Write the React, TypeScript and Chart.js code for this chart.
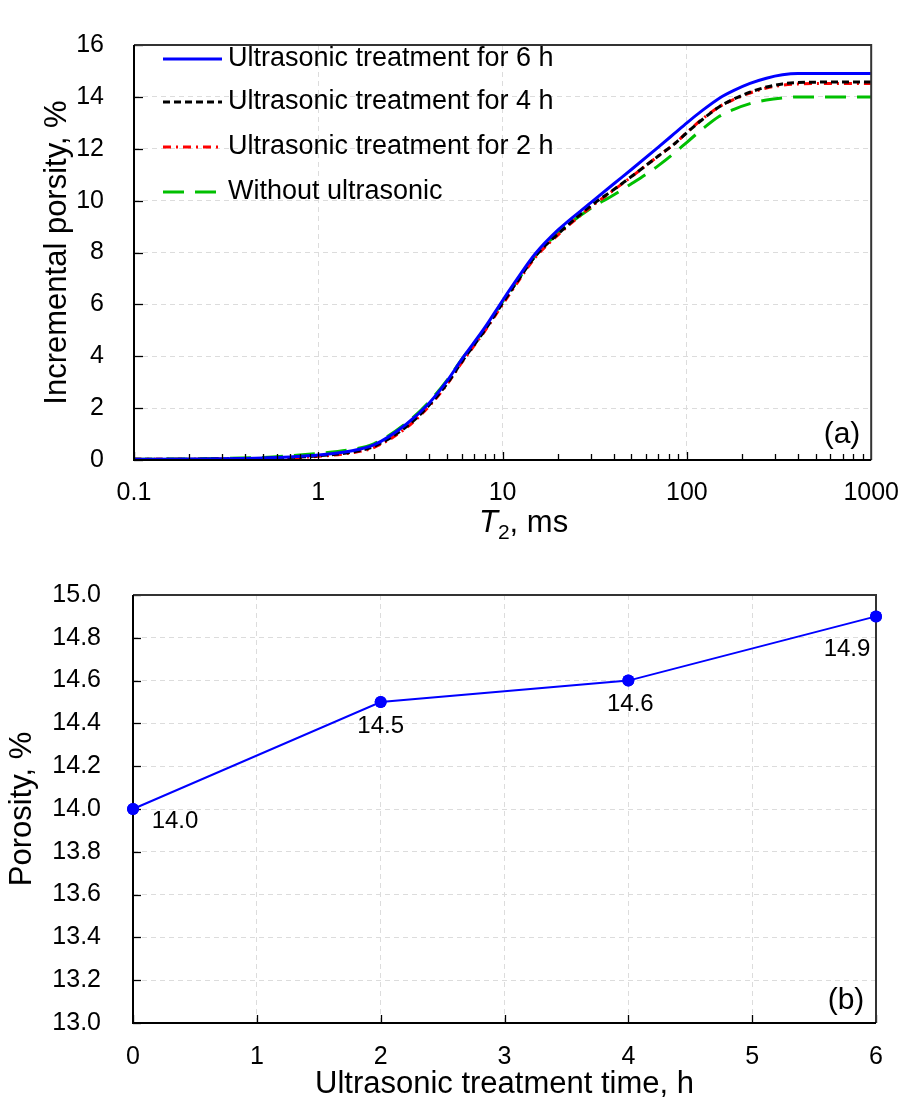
import React, { useEffect, useRef } from "react";
import { Chart, registerables } from "chart.js";

Chart.register(...registerables);

// ---------- data: (a) cumulative porosity vs T2 ----------
const T2_MS = [0.1, 0.2, 0.3, 0.5, 0.7, 1, 1.5, 2, 3, 4, 5, 6, 8, 10, 12, 15, 20, 30, 40, 50, 70, 85, 100, 120, 150, 180, 220, 270, 330, 400, 600, 1000];
const POROSITY_6H = [0.03, 0.04, 0.05, 0.08, 0.12, 0.19, 0.35, 0.58, 1.38, 2.2, 3.05, 3.88, 5.1, 6.15, 6.98, 7.94, 8.87, 9.91, 10.64, 11.2, 12.06, 12.57, 13.0, 13.45, 13.95, 14.25, 14.52, 14.72, 14.85, 14.9, 14.9, 14.9];
const POROSITY_4H = [0.03, 0.03, 0.04, 0.06, 0.1, 0.16, 0.3, 0.52, 1.28, 2.12, 2.95, 3.78, 5.0, 6.05, 6.88, 7.85, 8.72, 9.79, 10.42, 10.93, 11.72, 12.17, 12.62, 13.1, 13.62, 13.92, 14.18, 14.38, 14.5, 14.55, 14.57, 14.57];
const POROSITY_2H = [0.03, 0.03, 0.04, 0.05, 0.08, 0.14, 0.27, 0.48, 1.24, 2.08, 2.92, 3.75, 4.97, 6.0, 6.83, 7.8, 8.68, 9.75, 10.4, 10.92, 11.72, 12.17, 12.63, 13.12, 13.62, 13.9, 14.15, 14.34, 14.45, 14.5, 14.52, 14.52];
const POROSITY_0H = [0.03, 0.04, 0.06, 0.1, 0.16, 0.25, 0.4, 0.62, 1.42, 2.25, 3.08, 3.88, 5.05, 6.1, 6.9, 7.85, 8.75, 9.7, 10.22, 10.65, 11.35, 11.82, 12.25, 12.73, 13.25, 13.52, 13.74, 13.88, 13.96, 14.0, 14.0, 14.0];
const SERIES_LABELS = [
  "Ultrasonic treatment for 6 h",
  "Ultrasonic treatment for 4 h",
  "Ultrasonic treatment for 2 h",
  "Without ultrasonic",
];
const X_TICKS_A = [0.1, 1, 10, 100, 1000];

// ---------- data: (b) porosity vs treatment time ----------
const TREATMENT_TIME_H = [0, 2, 4, 6];
const TOTAL_POROSITY = [14.0, 14.5, 14.6, 14.9];

// ---------- styles ----------
const FONT = "'Liberation Sans', Arial, sans-serif";
const SERIES_STYLES = [
  { color: "#0000FF", dash: [] as number[], width: 3 },
  { color: "#000000", dash: [7, 4], width: 3 },
  { color: "#FF0000", dash: [8, 5, 2, 5], width: 3 },
  { color: "#00C000", dash: [21, 11], width: 3 },
];
const GRID_COLOR = "#DCDCDC";
const GRID_DASH = [5, 4];
const LABEL_OFFSETS = [
  [42, 12],
  [0, 24],
  [2, 24],
  [-29, 33],
];

function drawFrame(ctx: CanvasRenderingContext2D, a: any) {
  ctx.save();
  ctx.setLineDash([]);
  ctx.lineWidth = 2;
  ctx.strokeStyle = "#333333";
  ctx.beginPath();
  ctx.moveTo(a.left, a.top);
  ctx.lineTo(a.right, a.top);
  ctx.lineTo(a.right, a.bottom);
  ctx.stroke();
  ctx.strokeStyle = "#000000";
  ctx.beginPath();
  ctx.moveTo(a.left, a.top);
  ctx.lineTo(a.left, a.bottom);
  ctx.lineTo(a.right, a.bottom);
  ctx.stroke();
  ctx.restore();
}

const topPlugin = {
  id: "topDecor",
  afterDatasetsDraw(chart: any) {
    const { ctx, chartArea: a, scales } = chart;
    const xs = scales.x;
    const ys = scales.y;
    ctx.save();
    ctx.strokeStyle = "#000";
    ctx.lineWidth = 1.3;
    ctx.setLineDash([]);
    // inner y ticks
    for (let v = 0; v <= 16; v += 2) {
      const py = Math.round(ys.getPixelForValue(v)) + 0.5;
      ctx.beginPath();
      ctx.moveTo(a.left, py);
      ctx.lineTo(a.left + 9, py);
      ctx.stroke();
    }
    // inner x ticks (major + minor)
    for (let d = 0.1; d < 1000; d *= 10) {
      for (let m = 1; m <= 9; m++) {
        const v = d * m;
        const px = Math.round(xs.getPixelForValue(v)) + 0.5;
        const len = m === 1 ? 8 : 6;
        ctx.beginPath();
        ctx.moveTo(px, a.bottom);
        ctx.lineTo(px, a.bottom - len);
        ctx.stroke();
      }
    }
    ctx.restore();
    drawFrame(ctx, a);

    // legend
    ctx.save();
    const rows = [59, 102, 147, 192];
    chart.data.datasets.forEach((ds: any, i: number) => {
      ctx.strokeStyle = ds.borderColor;
      ctx.lineWidth = ds.borderWidth;
      ctx.setLineDash(ds.borderDash || []);
      ctx.beginPath();
      ctx.moveTo(163, rows[i]);
      ctx.lineTo(222, rows[i]);
      ctx.stroke();
      ctx.setLineDash([]);
      ctx.fillStyle = "#000";
      ctx.font = `27px ${FONT}`;
      ctx.textAlign = "left";
      ctx.textBaseline = "middle";
      ctx.fillText(ds.label, 228, rows[i]);
    });
    // panel label
    ctx.font = `30px ${FONT}`;
    ctx.textAlign = "center";
    ctx.textBaseline = "alphabetic";
    ctx.fillText("(a)", 842, 443);
    // x title: T2, ms
    ctx.textAlign = "left";
    let x0 = 479;
    const base = 532;
    ctx.font = `italic 31px ${FONT}`;
    ctx.fillText("T", x0, base);
    x0 += ctx.measureText("T").width;
    ctx.font = `21px ${FONT}`;
    ctx.fillText("2", x0, base + 7);
    x0 += ctx.measureText("2").width;
    ctx.font = `31px ${FONT}`;
    ctx.fillText(", ms", x0, base);
    ctx.restore();
  },
};

const bottomPlugin = {
  id: "bottomDecor",
  afterDatasetsDraw(chart: any) {
    const { ctx, chartArea: a, scales } = chart;
    const xs = scales.x;
    const ys = scales.y;
    ctx.save();
    ctx.strokeStyle = "#000";
    ctx.lineWidth = 1.3;
    ctx.setLineDash([]);
    for (let k = 0; k <= 10; k++) {
      const v = 13 + k * 0.2;
      const py = Math.round(ys.getPixelForValue(v)) + 0.5;
      ctx.beginPath();
      ctx.moveTo(a.left, py);
      ctx.lineTo(a.left + 8, py);
      ctx.stroke();
    }
    for (let v = 0; v <= 6; v++) {
      const px = Math.round(xs.getPixelForValue(v)) + 0.5;
      ctx.beginPath();
      ctx.moveTo(px, a.bottom);
      ctx.lineTo(px, a.bottom - 8);
      ctx.stroke();
    }
    ctx.restore();
    drawFrame(ctx, a);

    // redraw points on top of frame
    const meta = chart.getDatasetMeta(0);
    ctx.save();
    ctx.fillStyle = "#0000FF";
    meta.data.forEach((pt: any) => {
      ctx.beginPath();
      ctx.arc(pt.x, pt.y, 6, 0, Math.PI * 2);
      ctx.fill();
    });
    // data labels
    ctx.fillStyle = "#000";
    ctx.font = `24px ${FONT}`;
    ctx.textAlign = "center";
    ctx.textBaseline = "middle";
    meta.data.forEach((pt: any, i: number) => {
      const [dx, dy] = LABEL_OFFSETS[i];
      ctx.fillText(TOTAL_POROSITY[i].toFixed(1), pt.x + dx, pt.y + dy);
    });
    ctx.font = `30px ${FONT}`;
    ctx.textBaseline = "alphabetic";
    ctx.fillText("(b)", 846, 461);
    ctx.restore();
  },
};

function TopChart() {
  const ref = useRef<HTMLCanvasElement | null>(null);
  useEffect(() => {
    if (!ref.current) return;
    const allSeries = [POROSITY_6H, POROSITY_4H, POROSITY_2H, POROSITY_0H];
    const datasets = allSeries.map((vals, i) => ({
      label: SERIES_LABELS[i],
      data: T2_MS.map((x, j) => ({ x, y: vals[j] })),
      borderColor: SERIES_STYLES[i].color,
      borderWidth: SERIES_STYLES[i].width,
      borderDash: SERIES_STYLES[i].dash,
      pointRadius: 0,
      fill: false,
      cubicInterpolationMode: "monotone",
      order: i,
    }));
    const chart = new Chart(ref.current, {
      type: "line",
      data: { datasets },
      options: {
        animation: false,
        responsive: false,
        maintainAspectRatio: false,
        layout: { padding: { left: 0, right: 35, top: 27, bottom: 0 } },
        plugins: { legend: { display: false }, tooltip: { enabled: false } },
        scales: {
          x: {
            type: "logarithmic",
            min: 0.1,
            max: 1000,
            afterBuildTicks: (s: any) => {
              s.ticks = X_TICKS_A.map((v) => ({ value: v }));
            },
            afterFit: (s: any) => {
              s.height = 88;
            },
            ticks: {
              autoSkip: false,
              maxRotation: 0,
              padding: 18,
              color: "#000",
              font: { family: FONT, size: 25 },
              callback: (v: any) => String(v),
            },
            grid: { color: GRID_COLOR, lineWidth: 1, drawTicks: false },
            border: { display: false, dash: GRID_DASH },
          },
          y: {
            min: 0,
            max: 16,
            afterFit: (s: any) => {
              s.width = 134;
            },
            ticks: {
              stepSize: 2,
              padding: 30,
              color: "#000",
              font: { family: FONT, size: 25 },
            },
            title: {
              display: true,
              text: "Incremental porsity, %",
              color: "#000",
              font: { family: FONT, size: 31 },
              padding: { top: 39, bottom: 0 },
            },
            grid: { color: GRID_COLOR, lineWidth: 1, drawTicks: false },
            border: { display: false, dash: GRID_DASH },
          },
        },
      },
      plugins: [topPlugin],
    } as any);
    return () => chart.destroy();
  }, []);
  return <canvas ref={ref} width={917} height={548} style={{ display: "block" }} />;
}

function BottomChart() {
  const ref = useRef<HTMLCanvasElement | null>(null);
  useEffect(() => {
    if (!ref.current) return;
    const chart = new Chart(ref.current, {
      type: "line",
      data: {
        datasets: [
          {
            label: "Porosity",
            data: TREATMENT_TIME_H.map((x, i) => ({ x, y: TOTAL_POROSITY[i] })),
            borderColor: "#0000FF",
            backgroundColor: "#0000FF",
            borderWidth: 2,
            pointRadius: 6,
            pointBackgroundColor: "#0000FF",
            pointBorderWidth: 0,
            tension: 0,
            fill: false,
            clip: false,
          },
        ],
      },
      options: {
        animation: false,
        responsive: false,
        maintainAspectRatio: false,
        layout: { padding: { left: 0, right: 41, top: 41, bottom: 0 } },
        plugins: { legend: { display: false }, tooltip: { enabled: false } },
        scales: {
          x: {
            type: "linear",
            min: 0,
            max: 6,
            afterFit: (s: any) => {
              s.height = 74;
            },
            ticks: {
              stepSize: 1,
              maxRotation: 0,
              padding: 19,
              color: "#000",
              font: { family: FONT, size: 25 },
            },
            title: {
              display: true,
              text: "Ultrasonic treatment time, h",
              color: "#000",
              font: { family: FONT, size: 31, lineHeight: 1 },
              padding: { top: 0, bottom: -3 },
            },
            grid: { color: GRID_COLOR, lineWidth: 1, drawTicks: false },
            border: { display: false, dash: GRID_DASH },
          },
          y: {
            min: 13,
            max: 15,
            afterFit: (s: any) => {
              s.width = 133;
            },
            ticks: {
              stepSize: 0.2,
              padding: 32,
              color: "#000",
              font: { family: FONT, size: 25 },
              callback: (v: any) => Number(v).toFixed(1),
            },
            title: {
              display: true,
              text: "Porosity, %",
              color: "#000",
              font: { family: FONT, size: 31 },
              padding: { top: 4, bottom: 0 },
            },
            grid: { color: GRID_COLOR, lineWidth: 1, drawTicks: false },
            border: { display: false, dash: GRID_DASH },
          },
        },
      },
      plugins: [bottomPlugin],
    } as any);
    return () => chart.destroy();
  }, []);
  return <canvas ref={ref} width={917} height={549} style={{ display: "block" }} />;
}

export default function App() {
  return (
    <div style={{ position: "absolute", left: 0, top: 0, width: 917, height: 1097, background: "#fff", overflow: "hidden" }}>
      <div style={{ position: "absolute", left: 0, top: 0 }}>
        <TopChart />
      </div>
      <div style={{ position: "absolute", left: 0, top: 548 }}>
        <BottomChart />
      </div>
    </div>
  );
}
